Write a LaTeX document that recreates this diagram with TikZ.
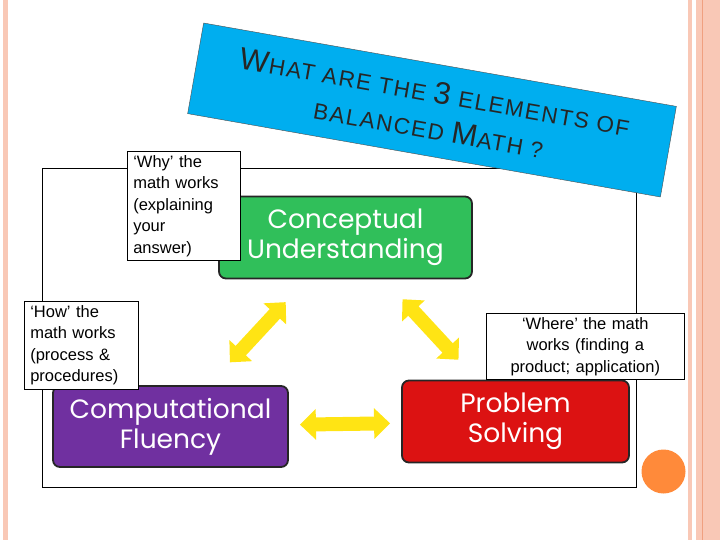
\documentclass[tikz,border=0pt]{standalone}
\usepackage{fontspec}
\usepackage{xcolor}
\usepackage{tikz}
\usetikzlibrary{shapes,arrows,positioning,calc,arrows.meta}
\setmainfont{Liberation Sans}
\newfontfamily\notefont{Liberation Sans}
\newfontfamily\elemfont{Poppins}
\definecolor{bannerblue}{HTML}{00AEEF}
\definecolor{elemgreen}{HTML}{30BF5A}
\definecolor{elempurple}{HTML}{7030A0}
\definecolor{elemred}{HTML}{DC1212}
\definecolor{arrowyellow}{HTML}{FFE414}
\definecolor{stripe}{HTML}{F9C8B6}
\definecolor{stripedark}{HTML}{F0A080}
\definecolor{dot}{HTML}{FF8A3A}
\newcommand{\titlecap}[1]{{\fontsize{31}{38}\selectfont #1}}

\begin{document}
\begin{tikzpicture}[x=1pt,y=-1pt,
    element/.style={draw=black!85, line width=1.8pt, rounded corners=7pt,
        text=white, align=center, inner sep=0pt,
        font=\elemfont\fontsize{26.5}{30}\selectfont},
    note/.style={draw, fill=white, line width=0.6pt, align=left,
        inner xsep=6pt, inner ysep=4pt, anchor=north west,
        font=\notefont\fontsize{16.5}{21.5}\selectfont},
    yarrow/.style={arrowyellow, line width=14pt,
        {Triangle[width=30pt,length=16pt]}-{Triangle[width=30pt,length=16pt]}}]
    \useasboundingbox (0,0) rectangle (720,540);

    % page stripes
    \fill[stripe] (3,0) rectangle (8,540);
    \fill[stripe] (688,0) rectangle (692,540);
    \fill[stripe] (696,0) rectangle (720,540);
    \draw[stripedark, line width=1.5pt] (702.5,0) -- (702.5,540);
    \fill[dot] (663.5,471.5) circle (22);

    % frame
    \draw[line width=0.8pt] (42,168) rectangle (636,487);

    % title banner
    \node[draw=black!70, fill=bannerblue, rotate=-10, minimum width=480,
        minimum height=92, inner sep=0pt, align=center, text=black!85,
        font=\fontsize{22.5}{37}\selectfont\addfontfeature{LetterSpace=7}]
        (banner) at (432,110)
        {\titlecap{W}HAT ARE THE \titlecap{3} ELEMENTS OF\\
         BALANCED \titlecap{M}ATH ?};

    % three elements
    \node[element, fill=elemgreen, minimum width=253, minimum height=82]
        (concept) at (345.5,237.5) {Conceptual\\Understanding};
    \node[element, fill=elempurple, minimum width=235, minimum height=81]
        (comput) at (170.5,426.5) {Computational\\Fluency};
    \node[element, fill=elemred, minimum width=227, minimum height=82]
        (problem) at (515.5,421.5) {Problem\\Solving};

    % arrows between elements
    \draw[yarrow, shorten <=31pt, shorten >=31pt] (comput) -- (concept);
    \draw[yarrow, shorten <=27pt, shorten >=27pt] (concept) -- (problem);
    \draw[yarrow, shorten <=11pt, shorten >=11pt] (comput) -- (problem);

    % notes
    \node[note, text width=101pt] (why) at (127,151)
        {‘Why’ the\\math works\\(explaining\\your\\answer)};
    \node[note, text width=102pt] (how) at (24,301)
        {‘How’ the\\math works\\(process \&\\procedures)};
    \node[note, text width=186pt, align=center] (where) at (486,313)
        {‘Where’ the math\\works (finding a\\product; application)};
\end{tikzpicture}
\end{document}
